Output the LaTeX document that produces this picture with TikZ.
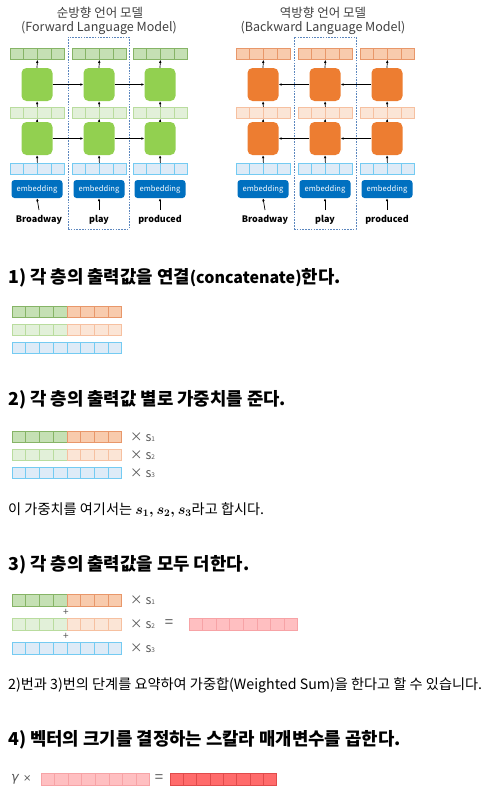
\documentclass[tikz,border=0pt]{standalone}
\usepackage{fontspec}
\setmainfont{Noto Sans CJK KR}
\newfontfamily\dejav{DejaVu Sans}
\usepackage{amsmath}
\usetikzlibrary{arrows.meta,calc}
\definecolor{gbox}{HTML}{92D050}
\definecolor{gtopF}{HTML}{C5E0B4}
\definecolor{gtopD}{HTML}{86B466}
\definecolor{gmidF}{HTML}{E2F0D9}
\definecolor{gmidD}{HTML}{B9DC9E}
\definecolor{obox}{HTML}{ED7D31}
\definecolor{otopF}{HTML}{F8CBAD}
\definecolor{otopD}{HTML}{E8976A}
\definecolor{omidF}{HTML}{FBE5D6}
\definecolor{omidD}{HTML}{F6C0A0}
\definecolor{bF}{HTML}{DEEBF7}
\definecolor{bD}{HTML}{74CBF2}
\definecolor{emb}{HTML}{0070C0}
\definecolor{pinkF}{HTML}{FFBFC1}
\definecolor{pinkD}{HTML}{F7A3A6}
\definecolor{redF}{HTML}{FF6B6B}
\definecolor{redD}{HTML}{E04B4B}
\definecolor{dashc}{HTML}{5B86BE}
\definecolor{txtg}{HTML}{404040}
\definecolor{lblg}{HTML}{595959}

% name, x left, y top, width, height, n, fill, draw
\newcommand\cellrow[8]{%
  \node[draw=#8, fill=#7, line width=0.8pt, inner sep=0pt, minimum width=#4pt,
        minimum height=#5pt, anchor=north west] (#1) at (#2,#3) {};
  \pgfmathtruncatemacro\cellnm{#6-1}%
  \foreach \ci in {1,...,\cellnm}{%
    \draw[#8, line width=0.8pt] ($(#1.north west)!\ci/#6!(#1.north east)$) --
          ($(#1.south west)!\ci/#6!(#1.south east)$);}%
}

\begin{document}
\begin{tikzpicture}[x=1pt,y=-1pt,
  rnnbox/.style={inner sep=0pt, minimum width=31pt, minimum height=33pt, rounded corners=5pt},
  gbx/.style={rnnbox, fill=gbox},
  obx/.style={rnnbox, fill=obox},
  embst/.style={inner sep=0pt, minimum width=51pt, minimum height=18pt, rounded corners=3pt,
     fill=emb, text=white, font=\fontsize{7.6}{7.6}\selectfont},
  wordst/.style={inner sep=0pt, font=\fontsize{9}{9}\selectfont\bfseries},
  titlest/.style={inner sep=0pt, text=txtg, font=\fontsize{12.5}{12.5}\selectfont},
  arr/.style={-{Latex[length=3pt,width=2.6pt]}, line width=0.7pt, black},
  colframe/.style={draw=dashc, line width=0.7pt, dash pattern=on 1.6pt off 1.2pt, inner sep=0pt},
  sect/.style={inner sep=0pt, anchor=west, font=\fontsize{17.8}{17.8}\selectfont\bfseries},
  para/.style={inner sep=0pt, anchor=west, font=\fontsize{14.2}{14.2}\selectfont},
  lbl/.style={inner sep=0pt, anchor=west, text=lblg, font=\fontsize{12.5}{12.5}\selectfont},
  sub/.style={},
]
\useasboundingbox (0,0) rectangle (490,796);
\fill[white] (0,0) rectangle (490,796);

% ---------------- Forward model ----------------
\node[titlest] (ft1) at (100,13) {순방향 언어 모델};
\node[titlest] (ft2) at (99,28) {(Forward Language Model)};
\node[colframe, minimum width=61pt, minimum height=192pt] (fframe) at (98.5,133) {};

\foreach \c/\x in {1/37,2/99,3/160}{
  \cellrow{Ftop\c}{\x-27}{48}{54}{11}{4}{gtopF}{gtopD}
  \node[gbx] (Fup\c) at (\x,84.5) {};
  \cellrow{Fmid\c}{\x-27}{107}{54}{11}{4}{gmidF}{gmidD}
  \node[gbx] (Flo\c) at (\x,138.5) {};
  \cellrow{Fblu\c}{\x-27}{163}{54}{11}{4}{bF}{bD}
  \node[embst] (Femb\c) at (\x,189) {embedding};
  \draw[arr] (Fup\c.north) -- (Ftop\c.south);
  \draw[arr] (Fmid\c.north) -- (Fup\c.south);
  \draw[arr] (Flo\c.north) -- (Fmid\c.south);
  \draw[arr] (Fblu\c.north) -- (Flo\c.south);
}
\node[wordst] (Fw1) at (39,220) {Broadway};
\node[wordst] (Fw2) at (99,220) {play};
\node[wordst] (Fw3) at (160,220) {produced};
\foreach \c in {1,2,3}{ \draw[arr] (Fw\c.north |- 0,210) coordinate (Fws\c) -- (Femb\c.south); }
\draw[arr] (Fup1.east) -- (Fup2.west);
\draw[arr] (Fup2.east) -- (Fup3.west);
\draw[arr] (Flo1.east) -- (Flo2.west);
\draw[arr] (Flo2.east) -- (Flo3.west);

% ---------------- Backward model ----------------
\node[titlest] (bt1) at (323,13) {역방향 언어 모델};
\node[titlest] (bt2) at (323,28) {(Backward Language Model)};
\node[colframe, minimum width=62pt, minimum height=192pt] (bframe) at (325,133) {};

\foreach \c/\x in {1/263,2/325,3/387}{
  \cellrow{Btop\c}{\x-27}{48}{54}{11}{4}{otopF}{otopD}
  \node[obx] (Bup\c) at (\x,84.5) {};
  \cellrow{Bmid\c}{\x-27}{107}{54}{11}{4}{omidF}{omidD}
  \node[obx] (Blo\c) at (\x,138.5) {};
  \cellrow{Bblu\c}{\x-27}{163}{54}{11}{4}{bF}{bD}
  \node[embst] (Bemb\c) at (\x,189) {embedding};
  \draw[arr] (Bup\c.north) -- (Btop\c.south);
  \draw[arr] (Bmid\c.north) -- (Bup\c.south);
  \draw[arr] (Blo\c.north) -- (Bmid\c.south);
  \draw[arr] (Bblu\c.north) -- (Blo\c.south);
}
\node[wordst] (Bw1) at (265,220) {Broadway};
\node[wordst] (Bw2) at (325,220) {play};
\node[wordst] (Bw3) at (387,220) {produced};
\foreach \c in {1,2,3}{ \draw[arr] (Bw\c.north |- 0,210) coordinate (Bws\c) -- (Bemb\c.south); }
\draw[arr] (Bup3.west) -- (Bup2.east);
\draw[arr] (Bup2.west) -- (Bup1.east);
\draw[arr] (Blo3.west) -- (Blo2.east);
\draw[arr] (Blo2.west) -- (Blo1.east);

% ---------------- Section 1 ----------------
\node[sect] (s1) at (8,278) {1) 각 층의 출력값을 연결{\fontsize{16}{16}\selectfont(concatenate)}한다.};
\cellrow{A1g}{12}{306}{54.5}{11}{4}{gtopF}{gtopD}
\cellrow{A1o}{66.5}{306}{54.5}{11}{4}{otopF}{otopD}
\cellrow{A2g}{12}{324}{54.5}{11}{4}{gmidF}{gmidD}
\cellrow{A2o}{66.5}{324}{54.5}{11}{4}{omidF}{omidD}
\cellrow{A3}{12}{342}{109}{11}{8}{bF}{bD}

% ---------------- Section 2 ----------------
\node[sect] (s2) at (8,400) {2) 각 층의 출력값 별로 가중치를 준다.};
\cellrow{C1g}{12}{431}{54.5}{11}{4}{gtopF}{gtopD}
\cellrow{C1o}{66.5}{431}{54.5}{11}{4}{otopF}{otopD}
\cellrow{C2g}{12}{449}{54.5}{11}{4}{gmidF}{gmidD}
\cellrow{C2o}{66.5}{449}{54.5}{11}{4}{omidF}{omidD}
\cellrow{C3}{12}{467}{109}{11}{8}{bF}{bD}
\node[lbl] (cx1) at (130,437) {×\ s{\fontsize{6.5}{6.5}\selectfont 1}};
\node[lbl] (cx2) at (130,455) {×\ s{\fontsize{6.5}{6.5}\selectfont 2}};
\node[lbl] (cx3) at (130,473) {×\ s{\fontsize{6.5}{6.5}\selectfont 3}};
\node[para] (p2) at (8,510) {이 가중치를 여기서는 {\boldmath$s_1, s_2, s_3$}라고 합시다.};

% ---------------- Section 3 ----------------
\node[sect] (s3) at (8,565) {3) 각 층의 출력값을 모두 더한다.};
\cellrow{D1g}{12}{594}{54.5}{11.5}{4}{gtopF}{gtopD}
\cellrow{D1o}{66.5}{594}{54.5}{11.5}{4}{otopF}{otopD}
\cellrow{D2g}{12}{618}{54.5}{11.5}{4}{gmidF}{gmidD}
\cellrow{D2o}{66.5}{618}{54.5}{11.5}{4}{omidF}{omidD}
\cellrow{D3}{12}{642}{109}{11.5}{8}{bF}{bD}
\node[inner sep=0pt, text=lblg, font=\fontsize{10}{10}\selectfont] (dp1) at (66,612) {+};
\node[inner sep=0pt, text=lblg, font=\fontsize{10}{10}\selectfont] (dp2) at (66,636) {+};
\node[lbl] (dx1) at (130,600) {×\ s{\fontsize{6.5}{6.5}\selectfont 1}};
\node[lbl] (dx2) at (130,624) {×\ s{\fontsize{6.5}{6.5}\selectfont 2}};
\node[lbl] (dx3) at (130,648) {×\ s{\fontsize{6.5}{6.5}\selectfont 3}};
\node[inner sep=0pt, text=lblg, font=\fontsize{15}{15}\selectfont] (deq) at (169,624) {=};
\cellrow{Dsum}{189}{618}{108}{11.5}{8}{pinkF}{pinkD}

\node[para] (p3) at (8,685) {2)번과 3)번의 단계를 요약하여 가중합(Weighted Sum)을 한다고 할 수 있습니다.};

% ---------------- Section 4 ----------------
\node[inner sep=0pt, anchor=west, text=lblg, font=\dejav\fontsize{13}{13}\selectfont] (gam) at (11,779) {\itshape γ\upshape\ {\fontsize{10}{10}\selectfont ×}};
\node[sect] (s4) at (8,740) {4) 벡터의 크기를 결정하는 스칼라 매개변수를 곱한다.};
\cellrow{Epink}{41}{773}{108}{12}{8}{pinkF}{pinkD}
\node[inner sep=0pt, text=lblg, font=\fontsize{15}{15}\selectfont] (eeq) at (159,779) {=};
\cellrow{Ered}{170}{773}{106}{12}{8}{redF}{redD}
\end{tikzpicture}
\end{document}
